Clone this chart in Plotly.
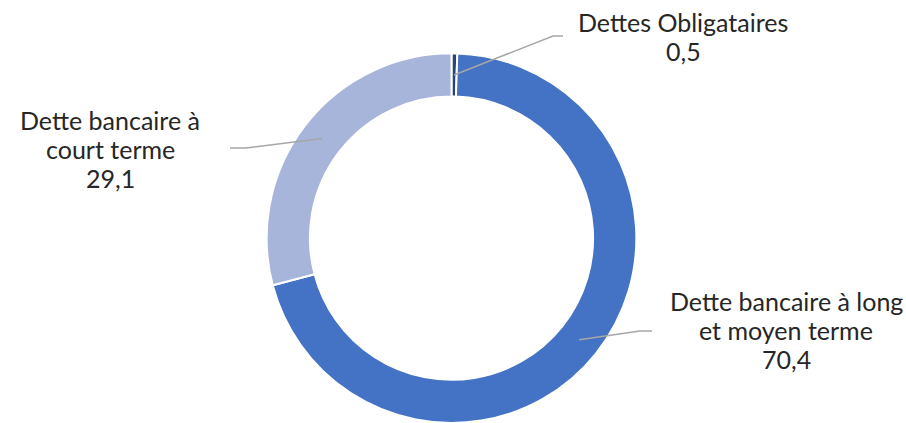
import math
import plotly.graph_objects as go

# Répartition de la dette (en %)
categories = ["Dettes Obligataires", "Dette bancaire à long et moyen terme", "Dette bancaire à court terme"]
values = [0.5, 70.4, 29.1]
label_lines = [
    ["Dettes Obligataires", "0,5"],
    ["Dette bancaire à long", "et moyen terme", "70,4"],
    ["Dette bancaire à", "court terme", "29,1"],
]
colors = ["#264478", "#4472C4", "#A8B5DA"]

W, H = 906, 423
hole = 0.766
dom_x = [0.0, 903 / W]
dom_y = [0.0, 0.874]

fig = go.Figure()
fig.add_trace(go.Pie(
    labels=categories,
    values=values,
    sort=False,
    direction="clockwise",
    rotation=0,
    hole=hole,
    textinfo="none",
    hoverinfo="label+value",
    marker=dict(colors=colors, line=dict(color="white", width=2)),
    domain=dict(x=dom_x, y=dom_y),
    showlegend=False,
))

# Geometry of the ring in pixel space (plot area = full figure, zero margins)
cx = W * (dom_x[0] + dom_x[1]) / 2
cy = H * (1 - (dom_y[0] + dom_y[1]) / 2)
r_out = min(W * (dom_x[1] - dom_x[0]), H * (dom_y[1] - dom_y[0])) / 2
r_mid = r_out * (1 + hole) / 2

# Label block: centre x and first-line baseline, in pixels; line pitch
label_pos = [(683, 31.5), (786, 310.5), (110, 129)]
line_pitch = 29
leader_bends = [[(553, 36), (563, 36)], [(640, 331), (652, 331)], [(246, 148), (230, 148)]]

FONT = dict(family="Lato", size=25, color="#262626")


def px(x, y):
    return x / W, 1 - y / H


shapes = []
annotations = []
total = sum(values)
cum = 0.0
for v, lines, (lx, ly), bends in zip(values, label_lines, label_pos, leader_bends):
    mid = (cum + v / 2) / total * 2 * math.pi
    cum += v
    sx = cx + r_mid * math.sin(mid)
    sy = cy - r_mid * math.cos(mid)
    pts = [(sx, sy)] + bends
    path = "M " + " L ".join(f"{px(x, y)[0]:.5f},{px(x, y)[1]:.5f}" for x, y in pts)
    shapes.append(dict(type="path", path=path, xref="paper", yref="paper",
                       line=dict(color="#A6A6A6", width=1.5), layer="above"))
    for i, line in enumerate(lines):
        ax, ay = px(lx, ly + i * line_pitch - 9.5)
        annotations.append(dict(x=ax, y=ay, xref="paper", yref="paper", text=line,
                                showarrow=False, xanchor="center", yanchor="middle",
                                align="center", font=FONT))

fig.update_layout(
    width=W, height=H,
    margin=dict(l=0, r=0, t=0, b=0),
    paper_bgcolor="white", plot_bgcolor="white",
    shapes=shapes, annotations=annotations,
)

fig.write_html("out.html")
